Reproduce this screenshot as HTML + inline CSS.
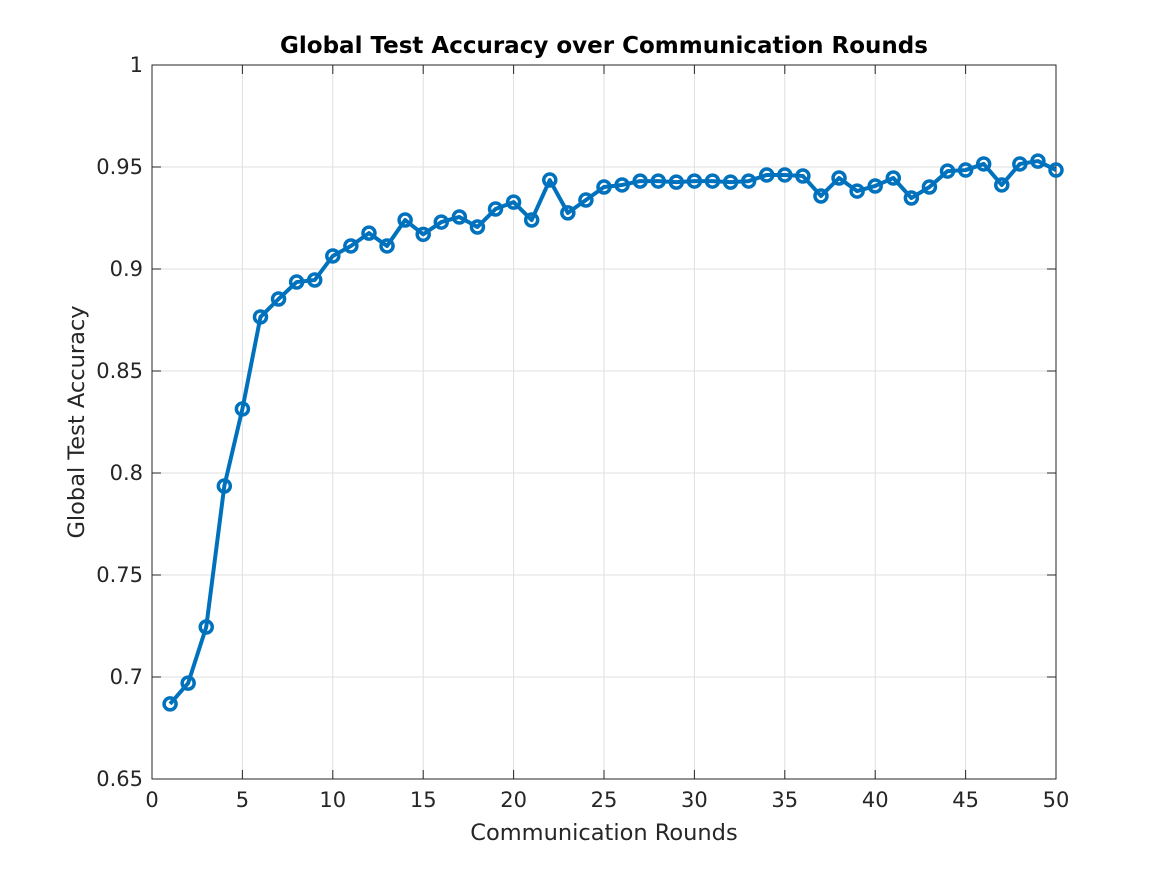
<!DOCTYPE html>
<html><head><meta charset="utf-8"><style>
body{margin:0;background:#fff;}
svg text{font-family:"DejaVu Sans","Liberation Sans",sans-serif;}
</style></head><body>
<svg id="chart" width="1167" height="875" xmlns="http://www.w3.org/2000/svg">
<rect width="1167" height="875" fill="#fff"/>
<g id="grid"></g>
<rect x="152" y="65" width="904" height="714" fill="none" stroke="#262626" stroke-width="1"/>
<g id="ticks"></g>
<g id="series"></g>
<text x="604" y="53" text-anchor="middle" font-size="23" font-weight="bold" fill="#000">Global Test Accuracy over Communication Rounds</text>
<text x="604" y="840" text-anchor="middle" font-size="22.5" fill="#262626">Communication Rounds</text>
<text transform="translate(84,422) rotate(-90)" text-anchor="middle" font-size="22.5" fill="#262626">Global Test Accuracy</text>
</svg>
<script>
const rounds=[1,2,3,4,5,6,7,8,9,10,11,12,13,14,15,16,17,18,19,20,21,22,23,24,25,26,27,28,29,30,31,32,33,34,35,36,37,38,39,40,41,42,43,44,45,46,47,48,49,50];
const accuracy=[0.6868,0.697,0.7245,0.7936,0.8314,0.8765,0.8853,0.8936,0.8946,0.9064,0.9113,0.9176,0.9113,0.924,0.917,0.923,0.9255,0.9206,0.9294,0.9328,0.924,0.9436,0.9275,0.9338,0.9402,0.9412,0.9431,0.9431,0.9426,0.9431,0.9431,0.9426,0.9431,0.9461,0.9461,0.9456,0.9358,0.9446,0.9382,0.9407,0.9446,0.9348,0.9402,0.948,0.9485,0.9515,0.9412,0.9515,0.9529,0.9485];
const xTicks=[0,5,10,15,20,25,30,35,40,45,50];
const yTicks=[0.65,0.7,0.75,0.8,0.85,0.9,0.95,1];
const yTickLabels=["0.65","0.7","0.75","0.8","0.85","0.9","0.95","1"];
const NS="http://www.w3.org/2000/svg";
const X0=152,X1=1056,Y0=779,Y1=65;
const xs=v=>X0+(v-0)/(50-0)*(X1-X0);
const ys=v=>Y0-(v-0.65)/(1-0.65)*(Y0-Y1);
function mk(tag,attrs,parent){const e=document.createElementNS(NS,tag);for(const k in attrs)e.setAttribute(k,attrs[k]);parent.appendChild(e);return e;}
const grid=document.getElementById('grid'),ticks=document.getElementById('ticks'),series=document.getElementById('series');
xTicks.forEach(t=>{const x=xs(t);
 const g=mk('line',{x1:x,x2:x,y1:Y1,y2:Y0,stroke:'#dfdfdf','stroke-width':1},grid);
 
 
 mk('line',{x1:x,x2:x,y1:Y0,y2:Y0-9,stroke:'#262626'},ticks);
 mk('line',{x1:x,x2:x,y1:Y1,y2:Y1+9,stroke:'#262626'},ticks);
 const l=mk('text',{x:x,y:Y0+28,'text-anchor':'middle','font-size':21,fill:'#262626'},ticks);l.textContent=t;
 
 
});
yTicks.forEach((t,i)=>{const y=ys(t);
 const g=mk('line',{x1:X0,x2:X1,y1:y,y2:y,stroke:'#dfdfdf','stroke-width':1},grid);
 
 
 mk('line',{x1:X0,x2:X0+9,y1:y,y2:y,stroke:'#262626'},ticks);
 mk('line',{x1:X1,x2:X1-9,y1:y,y2:y,stroke:'#262626'},ticks);
 const l=mk('text',{x:X0-9,y:y+7,'text-anchor':'end','font-size':21,fill:'#262626'},ticks);l.textContent=yTickLabels[i];
 
 
});
const pts=rounds.map((r,i)=>xs(r)+','+ys(accuracy[i])).join(' ');
const line=mk('polyline',{points:pts,fill:'none',stroke:'#0072bd','stroke-width':4,'stroke-linejoin':'round'},series);


rounds.forEach((r,i)=>{const c=mk('circle',{cx:xs(r),cy:ys(accuracy[i]),r:6,fill:'none',stroke:'#0072bd','stroke-width':3.5},series);
 
 
});
</script>
</body></html>
